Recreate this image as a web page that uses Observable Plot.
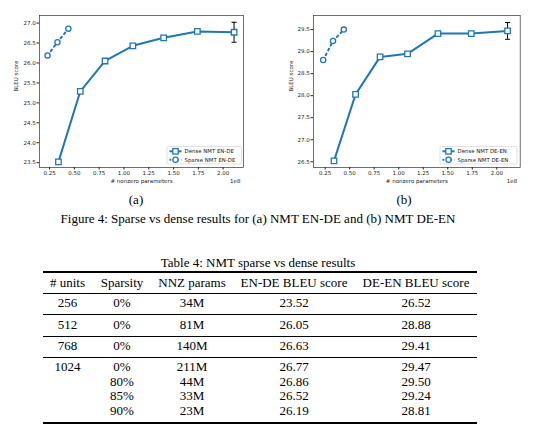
<!DOCTYPE html>
<html><head><meta charset="utf-8">
<script src="https://cdn.jsdelivr.net/npm/d3@7"></script>
<script src="https://cdn.jsdelivr.net/npm/@observablehq/plot@0.6"></script>
<style>
body{margin:0;background:#fff;}
#page{position:relative;width:537px;height:433px;overflow:hidden;font-family:"Liberation Serif","Times New Roman",serif;color:#000;background:#fff;}
.chart{position:absolute;top:0;}
.txt{position:absolute;white-space:nowrap;font-size:13px;line-height:14px;transform:translateX(-50%);}
.rule{position:absolute;left:43px;width:434px;background:#000;}
</style></head><body><div id="page"></div>
<script>
// ---- chart data ----
const xTicks = [0.25, 0.5, 0.75, 1.0, 1.25, 1.5, 1.75, 2.0];
const enDeTicks = [23.5, 24.0, 24.5, 25.0, 25.5, 26.0, 26.5, 27.0];
const deEnTicks = [26.5, 27.0, 27.5, 28.0, 28.5, 29.0, 29.5];
const denseParams = [0.34, 0.56, 0.81, 1.09, 1.40, 1.74, 2.11];
const enDeDense = [23.52, 25.29, 26.05, 26.43, 26.63, 26.79, 26.77];
const deEnDense = [26.52, 28.03, 28.88, 28.95, 29.41, 29.41, 29.47];
const sparseParams = [0.23, 0.33, 0.44];
const enDeSparse = [26.19, 26.52, 26.86];
const deEnSparse = [28.81, 29.24, 29.50];
const enDeErr = [26.52, 27.02];
const deEnErr = [29.28, 29.66];
const enDeLegend = ["Dense NMT EN-DE", "Sparse NMT EN-DE"];
const deEnLegend = ["Dense NMT DE-EN", "Sparse NMT DE-EN"];
const panelLabels = ["(a)", "(b)"];
const figCaption = "Figure 4: Sparse vs dense results for (a) NMT EN-DE and (b) NMT DE-EN";

// ---- table data ----
const tblTitle = "Table 4: NMT sparse vs dense results";
const tblHeader = ["# units", "Sparsity", "NNZ params", "EN-DE BLEU score", "DE-EN BLEU score"];
const tblUnits = ["256", "512", "768", "1024", "", "", ""];
const tblSparsity = ["0%", "0%", "0%", "0%", "80%", "85%", "90%"];
const tblNNZ = ["34M", "81M", "140M", "211M", "44M", "33M", "23M"];
const tblEnDe = ["23.52", "26.05", "26.63", "26.77", "26.86", "26.52", "26.19"];
const tblDeEn = ["26.52", "28.88", "29.41", "29.47", "29.50", "29.24", "28.81"];

const blue = "#1f77b4";
const page = document.getElementById("page");

const hline = {draw(ctx, size) { const w = Math.sqrt(size / Math.PI); ctx.moveTo(-w, 0); ctx.lineTo(w, 0); }};

function makeChart(o) {
  const dense = denseParams.map((x, i) => ({x, y: o.dense[i]}));
  const sparse = sparseParams.map((x, i) => ({x, y: o.sparse[i]}));
  const xe = denseParams[denseParams.length - 1];
  const err = [{x: xe, y1: o.err[0], y2: o.err[1]}];
  const caps = o.err.map(y => ({x: xe, y}));
  const svg = Plot.plot({
    width: o.width, height: 190,
    marginLeft: o.ml, marginRight: o.mr, marginTop: 15, marginBottom: 23,
    style: {fontFamily: "DejaVu Sans, sans-serif", fontSize: "5.5px", color: "#222", background: "transparent", overflow: "visible"},
    x: {domain: o.xDomain},
    y: {domain: o.yDomain},
    marks: [
      Plot.axisX({ticks: xTicks, tickFormat: d3.format(".2f"), tickSize: 2.5, tickPadding: 1.5, label: null, stroke: "#222"}),
      Plot.axisY({ticks: o.yTicks, tickFormat: d3.format(".1f"), tickSize: 2.5, tickPadding: 1.2, label: null, stroke: "#222"}),
      Plot.line(dense, {x: "x", y: "y", stroke: blue, strokeWidth: 2}),
      Plot.line(sparse, {x: "x", y: "y", stroke: blue, strokeWidth: 2, strokeDasharray: "1.8,3.6"}),
      Plot.ruleX(err, {x: "x", y1: "y1", y2: "y2", stroke: "#000", strokeWidth: 1}),
      Plot.dot(caps, {x: "x", y: "y", symbol: hline, r: 2.5, stroke: "#000", strokeWidth: 1}),
      Plot.dot(dense, {x: "x", y: "y", symbol: "square", r: 3.1, stroke: blue, fill: "white", strokeWidth: 1.3}),
      Plot.dot(sparse, {x: "x", y: "y", symbol: "circle", r: 2.6, stroke: blue, fill: "white", strokeWidth: 1.3}),
      Plot.frame({stroke: "#333", strokeWidth: 0.7}),
      Plot.text(["# nonzero parameters"], {text: d => d, frameAnchor: "bottom", dy: 15, fill: "#222"}),
      Plot.text(["1e8"], {text: d => d, frameAnchor: "bottom-right", dy: 15, dx: -3, textAnchor: "end", fill: "#222"}),
      Plot.text(["BLEU score"], {text: d => d, frameAnchor: "left", dx: o.ylabDx, rotate: -90, fill: "#222"})
    ]
  });
  // legend
  const g = d3.select(svg).append("g").attr("font-size", "5.4px").attr("text-anchor", "start");
  const L = o.legend;
  g.append("rect").attr("x", L.x).attr("y", L.y).attr("width", L.w).attr("height", L.h)
    .attr("rx", 1.5).attr("fill", "white").attr("fill-opacity", 0.85).attr("stroke", "#ccc").attr("stroke-width", 0.6);
  o.legendText.forEach((t, i) => {
    const yy = L.y + 4.8 + i * 8.4;
    g.append("line").attr("x1", L.x + 2.5).attr("x2", L.x + 14.5).attr("y1", yy).attr("y2", yy)
      .attr("stroke", blue).attr("stroke-width", 2).attr("stroke-dasharray", i ? "1.8,2.1" : null);
    if (i === 0) g.append("rect").attr("x", L.x + 8.5 - 2.7).attr("y", yy - 2.7).attr("width", 5.4).attr("height", 5.4)
      .attr("fill", "white").attr("stroke", blue).attr("stroke-width", 1.3);
    else g.append("circle").attr("cx", L.x + 8.5).attr("cy", yy).attr("r", 2.6)
      .attr("fill", "white").attr("stroke", blue).attr("stroke-width", 1.3);
    g.append("text").attr("x", L.x + 17.5).attr("y", yy).attr("dy", "0.35em").attr("fill", "#222").text(t);
  });
  return svg;
}

function place(el, left) { const d = document.createElement("div"); d.className = "chart"; d.style.left = left + "px"; d.appendChild(el); page.appendChild(d); }

place(makeChart({width: 268, ml: 39, mr: 25, xDomain: [0.149, 2.205], yDomain: [23.38, 27.19], yTicks: enDeTicks,
  dense: enDeDense, sparse: enDeSparse, err: enDeErr, ylabDx: -23, legendText: enDeLegend,
  legend: {x: 167, y: 146.5, w: 74.5, h: 17.5}}), 0);
place(makeChart({width: 269, ml: 45, mr: 17.3, xDomain: [0.131, 2.239], yDomain: [26.37, 29.82], yTicks: deEnTicks,
  dense: deEnDense, sparse: deEnSparse, err: deEnErr, ylabDx: -22, legendText: deEnLegend,
  legend: {x: 172, y: 146.5, w: 77, h: 17.5}}), 268);

function txt(s, cx, cy, extra) {
  const d = document.createElement("div"); d.className = "txt"; d.textContent = s;
  d.style.left = cx + "px"; d.style.top = (cy - 7) + "px";
  if (extra) Object.assign(d.style, extra);
  page.appendChild(d);
}
function rule(y, h) { const d = document.createElement("div"); d.className = "rule"; d.style.top = (y - h / 2) + "px"; d.style.height = h + "px"; page.appendChild(d); }

txt(panelLabels[0], 136, 200);
txt(panelLabels[1], 404, 200);
txt(figCaption, 258, 219);
txt(tblTitle, 258, 263);

const colX = [67.5, 122, 192, 294, 416];
rule(272, 1.3);
tblHeader.forEach((h, i) => txt(h, colX[i], 283));
rule(293, 0.8);
const rowY = [303, 325, 346, 367, 381.7, 396.3, 411];
const cols = [tblUnits, tblSparsity, tblNNZ, tblEnDe, tblDeEn];
rowY.forEach((y, r) => cols.forEach((c, i) => { if (c[r]) txt(c[r], colX[i], y); }));
rule(314, 0.8); rule(336, 0.8); rule(357, 0.8);
rule(423, 1.3);
</script></body></html>
